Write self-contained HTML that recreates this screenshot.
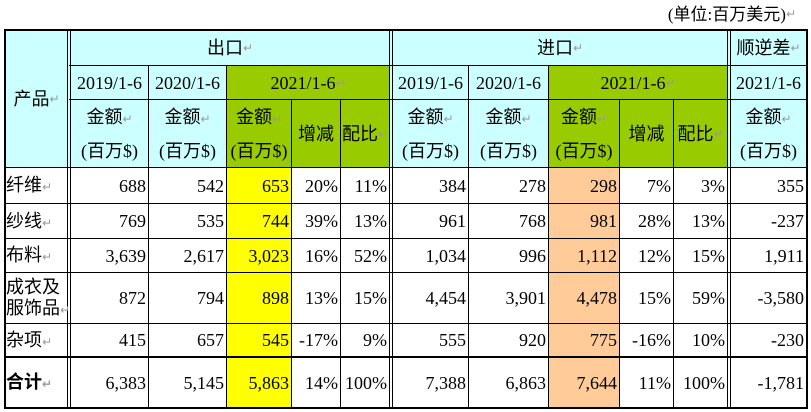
<!DOCTYPE html>
<html><head><meta charset="utf-8"><style>
body{margin:0;width:811px;height:412px;background:#fff;position:relative;overflow:hidden;font-family:"Liberation Serif","Noto Serif CJK SC",serif;font-size:18px;color:#000}
.c{position:absolute;box-sizing:border-box;display:flex;align-items:center;justify-content:center;text-align:center;line-height:1;white-space:nowrap}
.r{justify-content:flex-end;padding-right:2px}
.k{font-family:"Liberation Serif","Noto Sans CJK SC",sans-serif;font-size:18px}
.m{color:#999;font-size:12px;font-family:"DejaVu Sans",sans-serif}
.hl{position:absolute;background:#000;height:1px}
.vl{position:absolute;background:#000;width:1px}
.cy{background:#ccffff}.g{background:#99cc00}.y{background:#ffff00}.p{background:#ffcc99}
</style></head><body>
<div class="c k" style="left:560px;top:2px;width:236px;height:24px;justify-content:flex-end;font-size:17px">(单位:百万美元)<span class="m">↵</span></div>

<div class="c cy" style="left:4px;top:30px;width:802px;height:137px"></div>
<div class="c g" style="left:226px;top:65px;width:164px;height:102px"></div>
<div class="c g" style="left:548px;top:65px;width:180px;height:102px"></div>
<div class="c y" style="left:226px;top:167px;width:65px;height:241px"></div>
<div class="c p" style="left:548px;top:167px;width:71px;height:241px"></div>

<div class="hl" style="left:4px;top:29px;width:803px;height:2px"></div>
<div class="hl" style="left:69px;top:65px;width:738px"></div>
<div class="hl" style="left:69px;top:99px;width:738px"></div>
<div class="hl" style="left:4px;top:167px;width:803px"></div>
<div class="hl" style="left:4px;top:203px;width:803px"></div>
<div class="hl" style="left:4px;top:238px;width:803px"></div>
<div class="hl" style="left:4px;top:272px;width:803px"></div>
<div class="hl" style="left:4px;top:323px;width:803px"></div>
<div class="hl" style="left:4px;top:356px;width:803px;height:2px"></div>
<div class="hl" style="left:4px;top:407px;width:803px;height:2px"></div>
<div class="vl" style="left:4px;top:29px;height:380px;width:2px"></div>
<div class="vl" style="left:67px;top:29px;height:380px"></div>
<div class="vl" style="left:70px;top:29px;height:380px"></div>
<div class="vl" style="left:148px;top:65px;height:343px"></div>
<div class="vl" style="left:226px;top:65px;height:343px"></div>
<div class="vl" style="left:291px;top:99px;height:309px"></div>
<div class="vl" style="left:340px;top:99px;height:309px"></div>
<div class="vl" style="left:389px;top:29px;height:380px"></div>
<div class="vl" style="left:392px;top:29px;height:380px"></div>
<div class="vl" style="left:468px;top:65px;height:343px"></div>
<div class="vl" style="left:548px;top:65px;height:343px"></div>
<div class="vl" style="left:619px;top:99px;height:309px"></div>
<div class="vl" style="left:673px;top:99px;height:309px"></div>
<div class="vl" style="left:727px;top:29px;height:380px"></div>
<div class="vl" style="left:730px;top:29px;height:380px"></div>
<div class="vl" style="left:806px;top:29px;height:380px;width:2px"></div>

<div class="c k" style="left:6px;top:31px;width:61px;height:136px">产品<span class="m">↵</span></div>
<div class="c k" style="left:71px;top:31px;width:318px;height:34px">出口<span class="m">↵</span></div>
<div class="c k" style="left:393px;top:31px;width:334px;height:34px">进口<span class="m">↵</span></div>
<div class="c k" style="left:731px;top:31px;width:75px;height:34px">顺逆差<span class="m">↵</span></div>

<div class="c" style="left:71px;top:66px;width:77px;height:33px">2019/1-6</div>
<div class="c" style="left:149px;top:66px;width:77px;height:33px">2020/1-6</div>
<div class="c" style="left:227px;top:66px;width:162px;height:33px">2021/1-6<span class="m">↵</span></div>
<div class="c" style="left:393px;top:66px;width:75px;height:33px">2019/1-6</div>
<div class="c" style="left:469px;top:66px;width:79px;height:33px">2020/1-6</div>
<div class="c" style="left:549px;top:66px;width:178px;height:33px">2021/1-6<span class="m">↵</span></div>
<div class="c" style="left:731px;top:66px;width:75px;height:33px">2021/1-6</div>

<div class="c k" style="left:71px;top:100px;width:77px;height:67px;flex-direction:column;gap:16px"><span>金额<span class="m">↵</span></span><span>(百万$)</span></div>
<div class="c k" style="left:149px;top:100px;width:77px;height:67px;flex-direction:column;gap:16px"><span>金额<span class="m">↵</span></span><span>(百万$)</span></div>
<div class="c k" style="left:227px;top:100px;width:64px;height:67px;flex-direction:column;gap:16px"><span>金额<span class="m">↵</span></span><span>(百万$)</span></div>
<div class="c k" style="left:292px;top:100px;width:48px;height:67px">增减</div>
<div class="c k" style="left:341px;top:100px;width:48px;height:67px">配比<span class="m">↵</span></div>
<div class="c k" style="left:393px;top:100px;width:75px;height:67px;flex-direction:column;gap:16px"><span>金额<span class="m">↵</span></span><span>(百万$)</span></div>
<div class="c k" style="left:469px;top:100px;width:79px;height:67px;flex-direction:column;gap:16px"><span>金额<span class="m">↵</span></span><span>(百万$)</span></div>
<div class="c k" style="left:549px;top:100px;width:70px;height:67px;flex-direction:column;gap:16px"><span>金额<span class="m">↵</span></span><span>(百万$)</span></div>
<div class="c k" style="left:620px;top:100px;width:53px;height:67px">增减</div>
<div class="c k" style="left:674px;top:100px;width:53px;height:67px">配比<span class="m">↵</span></div>
<div class="c k" style="left:731px;top:100px;width:75px;height:67px;flex-direction:column;gap:16px"><span>金额<span class="m">↵</span></span><span>(百万$)</span></div>

<div id="rows"></div>
<script>
var cols=[[71,148],[149,226],[227,291],[292,340],[341,389],[393,468],[469,548],[549,619],[620,673],[674,727],[731,806]];
var rows=[
[168,203,"纤维",["688","542","653","20%","11%","384","278","298","7%","3%","355"]],
[204,238,"纱线",["769","535","744","39%","13%","961","768","981","28%","13%","-237"]],
[239,272,"布料",["3,639","2,617","3,023","16%","52%","1,034","996","1,112","12%","15%","1,911"]],
[273,323,"成衣及<br>服饰品",["872","794","898","13%","15%","4,454","3,901","4,478","15%","59%","-3,580"]],
[324,356,"杂项",["415","657","545","-17%","9%","555","920","775","-16%","10%","-230"]],
[358,407,"合计",["6,383","5,145","5,863","14%","100%","7,388","6,863","7,644","11%","100%","-1,781"]]];
var h="";
rows.forEach(function(r){
 var st="top:"+r[0]+"px;height:"+(r[1]-r[0])+"px;";
 h+='<div class="c k" style="left:6px;width:62px;justify-content:flex-start;text-align:left;'+st+(r[2]=="合计"?'font-weight:bold;':'')+'"><span style="display:block;line-height:1.15;white-space:nowrap">'+r[2]+'<span class="m">↵</span></span></div>';
 r[3].forEach(function(v,i){var c=cols[i];
  h+='<div class="c r" style="left:'+c[0]+'px;width:'+(c[1]-c[0])+'px;'+st+'">'+v+'</div>';});
});
document.getElementById("rows").innerHTML=h;
</script>
</body></html>
